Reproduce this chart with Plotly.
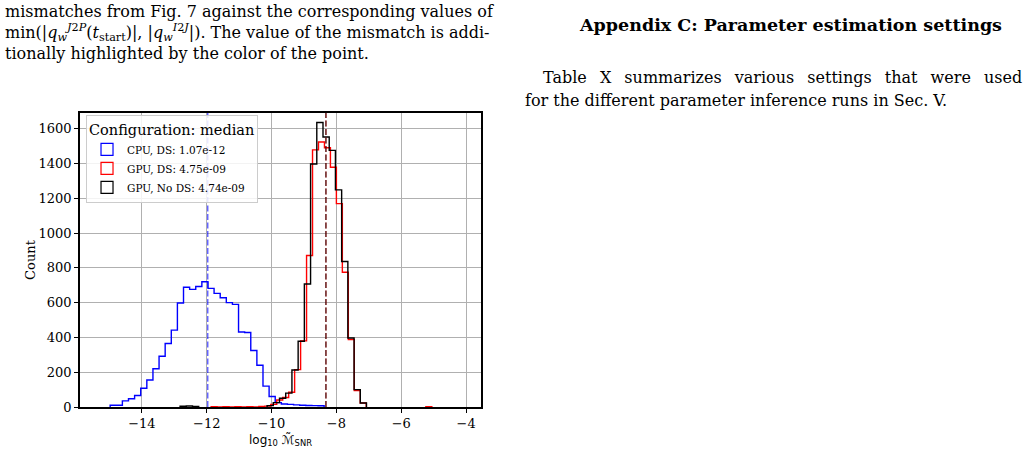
import numpy as np
import plotly.graph_objects as go

# ---------------- data ----------------
series_names = ["CPU, DS: 1.07e-12", "GPU, DS: 4.75e-09", "GPU, No DS: 4.74e-09"]
series_colors = ["#0000ff", "#ff0000", "#000000"]
medians = [1.07e-12, 4.75e-09, 4.74e-09]

cpu_start = -14.98
cpu_width = 0.1886
cpu_counts = [10, 10, 35, 47, 66, 108, 155, 220, 292, 365, 442, 598, 688, 676, 693,
              720, 682, 653, 628, 600, 590, 431, 428, 325, 240, 120, 60, 25, 17, 15,
              12, 10, 9, 8, 7]

gpu_ds_start = -11.865
gpu_ds_width = 0.184
gpu_ds_counts = [2, 0, 2, 0, 2, 0, 2, 0, 3, 5, 15, 40, 55, 85, 215, 380,
                 871, 1478, 1523, 1490, 1378, 1169, 775, 388, 95, 23,
                 0, 0, 0, 0, 0, 0, 0, 0, 0, 0, 2]

gpu_nods_start = -12.823
gpu_nods_width = 0.1917
gpu_nods_counts = [4, 6, 3, 0, 0, 0, 0, 0, 0, 0, 0, 0, 0, 0,
                   8, 25, 50, 80, 213, 378, 707,
                   1397, 1635, 1552, 1475, 1248, 836, 397, 100, 23]

x_ticks = [-14, -12, -10, -8, -6, -4]
y_ticks = [0, 200, 400, 600, 800, 1000, 1200, 1400, 1600]

starts = [cpu_start, gpu_ds_start, gpu_nods_start]
widths = [cpu_width, gpu_ds_width, gpu_nods_width]
counts = [cpu_counts, gpu_ds_counts, gpu_nods_counts]


def step_xy(start, width, cnt):
    """Outline of a step histogram; long runs of empty bins are left undrawn
    (they would lie on the axis line)."""
    edges = start + width * np.arange(len(cnt) + 1)
    n = len(cnt)
    xs, ys = [edges[0]], [0]
    i = 0
    while i < n:
        if cnt[i] == 0:
            j = i
            while j < n and cnt[j] == 0:
                j += 1
            if j - i >= 2:
                xs += [edges[i], None, edges[j]]
                ys += [0, None, 0]
                i = j
                continue
        xs.append(edges[i])
        ys.append(cnt[i])
        i += 1
    xs.append(edges[-1])
    ys.append(0)
    return xs, ys


fig = go.Figure()
for name, col, s, w, c in zip(series_names, series_colors, starts, widths, counts):
    xs, ys = step_xy(s, w, c)
    fig.add_trace(go.Scatter(x=xs, y=ys, mode="lines", line=dict(color=col, width=1.4, shape="hv"),
                             connectgaps=False, showlegend=False, hoverinfo="skip"))

# legend-only entries drawn as outlined boxes
for name, col in zip(series_names, series_colors):
    fig.add_trace(go.Bar(x=[-100], y=[0], name=name,
                         marker=dict(color="rgba(0,0,0,0)", line=dict(color=col, width=1.2)),
                         showlegend=True, hoverinfo="skip"))

# median lines
for m, col in zip(medians, series_colors):
    fig.add_shape(type="line", x0=np.log10(m), x1=np.log10(m), xref="x", yref="paper", y0=0, y1=1,
                  line=dict(color=col, width=1.5, dash="6px,2.5px"), opacity=0.6, layer="above")

fig.update_layout(
    width=1028, height=451,
    margin=dict(l=80, r=547, t=113, b=44, autoexpand=False),
    paper_bgcolor="white", plot_bgcolor="white",
    barmode="overlay",
    legend=dict(x=0.015, y=0.993, xanchor="left", yanchor="top",
                bgcolor="rgba(255,255,255,0.85)", bordercolor="#cccccc", borderwidth=1,
                font=dict(family="DejaVu Serif", size=10.5, color="black"),
                title=dict(text="Configuration: median", font=dict(family="DejaVu Serif", size=14.5)),
                tracegroupgap=0, itemwidth=30),
)

fig.update_xaxes(range=[-15.91, -3.54], tickvals=x_ticks, ticks="outside", ticklen=4, tickwidth=1,
                 tickcolor="black", showline=True, linecolor="black", linewidth=1.6, mirror=True,
                 showgrid=True, gridcolor="#b0b0b0", gridwidth=1, zeroline=False, automargin=False,
                 tickfont=dict(family="DejaVu Serif", size=13, color="black"),
                 title=dict(text="log<sub>10</sub> ℳ̃<sub>SNR</sub>", standoff=5,
                            font=dict(family="DejaVu Sans", size=12, color="black")))
fig.update_yaxes(range=[0, 1690], tickvals=y_ticks, ticks="outside", ticklen=4, tickwidth=1,
                 tickcolor="black", showline=True, linecolor="black", linewidth=1.6, mirror=True,
                 showgrid=True, gridcolor="#b0b0b0", gridwidth=1, zeroline=False, automargin=False,
                 tickfont=dict(family="DejaVu Serif", size=13, color="black"),
                 title=dict(text="Count", standoff=0,
                            font=dict(family="DejaVu Serif", size=13, color="black")))

# surrounding page text (pixel -> paper coords)
def px(xp):
    return (xp - 80) / 401.0


def py(yp):
    return (407 - yp) / 294.0


txt_font = dict(family="DejaVu Serif", size=16, color="black")
page_lines = [
    (3, 12, "mismatches from Fig. 7 against the corresponding values of", txt_font),
    (3, 33, "min(|<i>q</i><sub><i>w</i></sub><sup><i>J</i>2<i>P</i></sup>(<i>t</i><sub>start</sub>)|, |<i>q</i><sub><i>w</i></sub><sup><i>I</i>2<i>J</i></sup>|). The value of the mismatch is addi-", txt_font),
    (3, 53, "tionally highlighted by the color of the point.", txt_font),
    (541, 77, " \u2002".join("Table X summarizes various settings that were used".split(" ")), txt_font),
    (523, 100, "for the different parameter inference runs in Sec. V.", txt_font),
]
for xx, yy, t, f in page_lines:
    fig.add_annotation(x=px(xx), y=py(yy), xref="paper", yref="paper", text=t, showarrow=False,
                       xanchor="left", yanchor="middle", font=f)

fig.add_annotation(x=px(790), y=py(25), xref="paper", yref="paper",
                   text="<b>Appendix C: Parameter estimation settings</b>", showarrow=False,
                   xanchor="center", yanchor="middle",
                   font=dict(family="DejaVu Serif", size=17.5, color="black"))

fig.write_html("out.html")
